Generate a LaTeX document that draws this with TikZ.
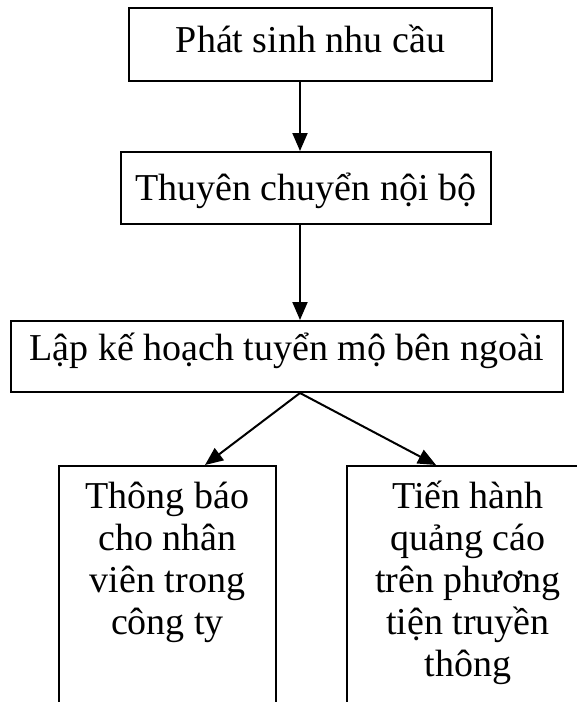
\documentclass[tikz,border=0pt]{standalone}
\usepackage{fontspec}
\setmainfont{Liberation Serif}
\usetikzlibrary{arrows.meta}
\begin{document}
\begin{tikzpicture}[->, >={Triangle[length=9pt,width=7.5pt]}, x=0.5pt, y=-0.5pt, line width=1pt,
  main node/.style={rectangle, draw, inner sep=0pt, text height=0.8em+3pt, text depth=0.22em},
  low node/.style={rectangle, draw, anchor=north, align=flush center, inner xsep=0pt, inner ysep=13pt, text height=0.8em, text depth=130pt}]
        \tikzstyle{every node}=[font=\fontsize{19}{21}\selectfont]

        \clip (0,0) rectangle (577,702);

          \node[main node, minimum width=181.5pt, minimum height=36.5pt] (1) at (310.5,44) {Phát sinh nhu cầu};
          \node[main node, minimum width=185.25pt, minimum height=36pt, text height=0.8em+7pt] (2) at (305.75,188) {Thuyên chuyển nội bộ};
          \node[main node, minimum width=276pt, minimum height=35.5pt, text depth=0.22em+4.5pt] (3) at (287,356.5) {Lập kế hoạch tuyển mộ bên ngoài};
          \node[low node, text width=108.5pt] (4) at (167.5,465) {Thông báo\\cho nhân\\viên trong\\công ty};
          \node[low node, text width=121pt] (5) at (468,465) {Tiến hành\\quảng cáo\\trên phương\\tiện truyền\\thông};

          \path ([xshift=-5.25pt]1.south) edge ([xshift=-5.25pt]1.south |- 2.north)
                ([xshift=-2.875pt]2.south) edge ([xshift=-2.875pt]2.south |- 3.north)
                ([xshift=6.5pt]3.south) edge ([xshift=18.75pt]4.north)
                ([xshift=6.5pt]3.south) edge ([xshift=-16pt]5.north);

        \end{tikzpicture}
\end{document}
